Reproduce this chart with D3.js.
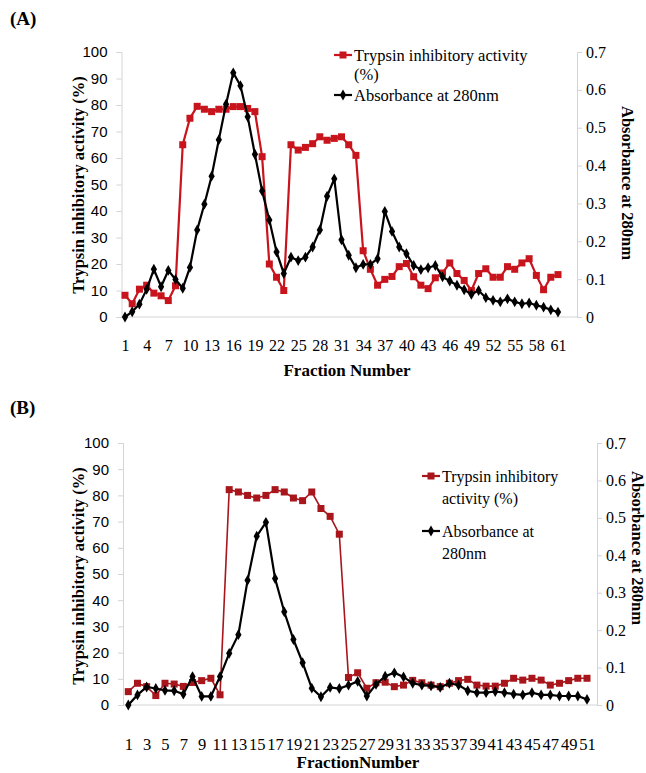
<!DOCTYPE html>
<html>
<head>
<meta charset="utf-8">
<script src="https://cdn.jsdelivr.net/npm/d3@7"></script>
<style>
  body { margin: 0; background: #fff; }
  svg { display: block; }
</style>
</head>
<body>
<script>
// ---- data ----
var fracA = d3.range(1, 62)
var inhibA = [8.2, 5, 10.5, 12, 9, 8, 6.2, 11.8, 65, 75, 79.5, 78.4, 77.5, 78.4, 78.4, 79.4, 79.4, 78.7, 77.5, 60.5,
  20, 15, 10, 65, 63, 64, 65.4, 68, 66.7, 67.4, 68, 65, 61,
  25, 18, 12, 14.2, 15.3, 19, 20.2, 15.2, 12, 10.7, 14.8, 16.6, 20.4, 16.4, 13.8, 10, 16.4, 18.2, 15, 15, 19, 18,
  20.4, 22, 15.7, 10.3, 15, 16]
var absA = [0, 0.014, 0.034, 0.073, 0.126, 0.08, 0.123, 0.099, 0.076, 0.131, 0.23, 0.298, 0.372, 0.468, 0.562, 0.645,
  0.611, 0.529, 0.43, 0.333, 0.256, 0.172, 0.115, 0.158, 0.149, 0.158, 0.185, 0.23, 0.319, 0.365, 0.204, 0.163, 0.13,
  0.139, 0.139, 0.154, 0.279, 0.226, 0.185, 0.167, 0.136, 0.125, 0.13, 0.136, 0.106, 0.095, 0.084, 0.072, 0.06, 0.07,
  0.051, 0.044, 0.04, 0.048, 0.04, 0.035, 0.037, 0.031, 0.026, 0.019, 0.013]
var ticksA = d3.range(1, 62, 3)

var fracB = d3.range(1, 52)
var inhibB = [5.1, 8.3, 7, 3.6, 8.3, 8, 7.1, 8.6, 9.3, 10.2, 3.9, 82.2, 81.3, 80, 79, 80, 82.2, 81.3, 79, 78, 81.3,
  75, 72, 65.2, 10.5, 12.3, 6.4, 8.5, 8.7, 7, 7.6, 9.4, 8.5, 7.6, 7, 8.3, 9.3, 9.8, 7.6, 7.2, 7.2, 8.3, 10.2, 9.5,
  10.2, 9.5, 7.6, 8.3, 9.3, 10.2, 10.2]
var absB = [0, 0.027, 0.048, 0.044, 0.039, 0.038, 0.029, 0.076, 0.023, 0.023, 0.076, 0.138, 0.188, 0.333, 0.451,
  0.488, 0.338, 0.249, 0.175, 0.113, 0.045, 0.022, 0.047, 0.044, 0.053, 0.063, 0.024, 0.055, 0.077, 0.086, 0.075,
  0.058, 0.053, 0.051, 0.047, 0.058, 0.053, 0.038, 0.033, 0.033, 0.036, 0.033, 0.029, 0.027, 0.033, 0.027, 0.027,
  0.024, 0.024, 0.024, 0.015]
var ticksB = d3.range(1, 52, 2)

var leftTicks = d3.range(0, 101, 10)
var rightTicks = d3.range(0, 0.71, 0.1)

var W = 646, H = 773
var SERIF = "'Liberation Serif', 'Times New Roman', serif"
var SANS = "'Liberation Sans', Arial, sans-serif"

var svg = d3.select("body").append("svg")
  .attr("width", W)
  .attr("height", H)

function drawPanel(p){
  var g = svg.append("g")

  var x = d3.scaleLinear().domain([1, p.frac.length]).range([p.x0, p.x1])
  var yL = d3.scaleLinear().domain([0, 100]).range([p.bottom, p.top])
  var yR = d3.scaleLinear().domain([0, 0.7]).range([p.bottom, p.top])

  // panel letter
  g.append("text").style("font-family", SERIF)
    .attr("x", 10).attr("y", p.letterY)
    .attr("font-size", 19).attr("font-weight", "bold")
    .text(p.letter)

  // left axis
  var la = g.append("g")
    .attr("transform", "translate(" + p.left + ",0)")
    .call(d3.axisLeft(yL).tickValues(leftTicks).tickSize(5).tickPadding(9))
  la.selectAll("path, line").attr("stroke", "#d4d4d4")
  la.selectAll("text").style("font-family", SANS).attr("font-size", 15).attr("fill", "#000")

  // right axis
  var ra = g.append("g")
    .attr("transform", "translate(" + p.right + ",0)")
    .call(d3.axisRight(yR).tickValues(rightTicks).tickSize(5).tickPadding(4)
      .tickFormat(function(d){ return d < 0.001 ? "0" : d.toFixed(1) }))
  ra.selectAll("path, line").attr("stroke", "#d4d4d4")
  ra.selectAll("text").style("font-family", SERIF).attr("font-size", 16).attr("fill", "#000")

  // bottom axis line across the plot
  g.append("line")
    .attr("x1", p.left).attr("x2", p.right)
    .attr("y1", p.bottom).attr("y2", p.bottom)
    .attr("stroke", "#d4d4d4")

  var xa = g.append("g")
    .attr("transform", "translate(0," + p.bottom + ")")
    .call(d3.axisBottom(x).tickValues(p.ticks).tickSize(0).tickPadding(p.xPad).tickFormat(d3.format("d")))
  xa.select(".domain").remove()
  xa.selectAll("text").style("font-family", SERIF).attr("font-size", p.xFont).attr("fill", "#000")

  // titles
  g.append("text").style("font-family", SERIF)
    .attr("transform", "translate(" + p.lTitleX + "," + p.lTitleY + ") rotate(-90)")
    .attr("text-anchor", "middle").attr("font-size", 16.5).attr("font-weight", "bold")
    .text("Trypsin inhibitory activity (%)")
  g.append("text").style("font-family", SERIF)
    .attr("transform", "translate(" + p.rTitleX + "," + p.rTitleY + ") rotate(90)")
    .attr("text-anchor", "middle").attr("font-size", 16.5).attr("font-weight", "bold")
    .text("Absorbance at 280nm")
  g.append("text").style("font-family", SERIF)
    .attr("x", p.xTitleX).attr("y", p.xTitleY)
    .attr("text-anchor", "middle").attr("font-size", 17).attr("font-weight", "bold")
    .text(p.xTitle)

  // red series (left axis)
  var redLine = d3.line().x(function(d, i){ return x(p.frac[i]) }).y(function(d){ return yL(d) })
  g.append("path").datum(p.inhib)
    .attr("d", redLine).attr("fill", "none")
    .attr("stroke", p.red).attr("stroke-width", p.redW)
  g.selectAll(".sq").data(p.inhib).enter().append("rect")
    .attr("class", "sq")
    .attr("x", function(d, i){ return x(p.frac[i]) - 3.5 })
    .attr("y", function(d){ return yL(d) - 3.5 })
    .attr("width", 7).attr("height", 7)
    .attr("fill", p.red)

  // black series (right axis)
  var blackLine = d3.line().x(function(d, i){ return x(p.frac[i]) }).y(function(d){ return yR(d) })
  g.append("path").datum(p.abs)
    .attr("d", blackLine).attr("fill", "none")
    .attr("stroke", "#000").attr("stroke-width", 2.2)
  var diamond = d3.symbol().type(d3.symbolDiamond).size(34)
  g.selectAll(".dm").data(p.abs).enter().append("path")
    .attr("class", "dm")
    .attr("d", diamond)
    .attr("transform", function(d, i){ return "translate(" + x(p.frac[i]) + "," + yR(d) + ")" })
    .attr("fill", "#000")

  // legend
  var lg = g.append("g")
  lg.append("line").attr("x1", p.legX - 20).attr("x2", p.legX - 2)
    .attr("y1", p.legY1).attr("y2", p.legY1).attr("stroke", p.red).attr("stroke-width", 2.2)
  lg.append("rect").attr("x", p.legX - 14.5).attr("y", p.legY1 - 3.5)
    .attr("width", 7).attr("height", 7).attr("fill", p.red)
  p.legRed.forEach(function(t, i){
    lg.append("text").style("font-family", SERIF).attr("font-size", p.legFont)
      .attr("x", p.legX).attr("y", p.legY1 + 6 + i * p.legGap).text(t)
  })
  lg.append("line").attr("x1", p.legX - 20).attr("x2", p.legX - 2)
    .attr("y1", p.legY2).attr("y2", p.legY2).attr("stroke", "#000").attr("stroke-width", 2.2)
  lg.append("path").attr("d", diamond)
    .attr("transform", "translate(" + (p.legX - 11) + "," + p.legY2 + ")")
  p.legBlack.forEach(function(t, i){
    lg.append("text").style("font-family", SERIF).attr("font-size", p.legFont)
      .attr("x", p.legX).attr("y", p.legY2 + 6 + i * p.legGap).text(t)
  })
}

drawPanel({
  letter: "(A)", letterY: 25,
  frac: fracA, inhib: inhibA, abs: absA, ticks: ticksA,
  left: 121.5, right: 577, top: 52, bottom: 317, x0: 125, x1: 558,
  xPad: 23, xFont: 16,
  lTitleX: 84, lTitleY: 185, rTitleX: 622, rTitleY: 183,
  xTitle: "Fraction Number", xTitleX: 347, xTitleY: 376,
  red: "#c8141c", redW: 2.2,
  legX: 354, legY1: 55, legY2: 95, legGap: 19, legFont: 16.5,
  legRed: ["Trypsin inhibitory activity", "(%)"], legBlack: ["Absorbance at 280nm"]
})

drawPanel({
  letter: "(B)", letterY: 414,
  frac: fracB, inhib: inhibB, abs: absB, ticks: ticksB,
  left: 123, right: 597, top: 443, bottom: 705, x0: 128.3, x1: 587,
  xPad: 33, xFont: 16.5,
  lTitleX: 84, lTitleY: 576, rTitleX: 632, rTitleY: 548,
  xTitle: "FractionNumber", xTitleX: 358, xTitleY: 768,
  red: "#a8161c", redW: 1.6,
  legX: 442, legY1: 476, legY2: 531, legGap: 22, legFont: 16,
  legRed: ["Trypsin inhibitory", "activity (%)"], legBlack: ["Absorbance at", "280nm"]
})
</script>
</body>
</html>
